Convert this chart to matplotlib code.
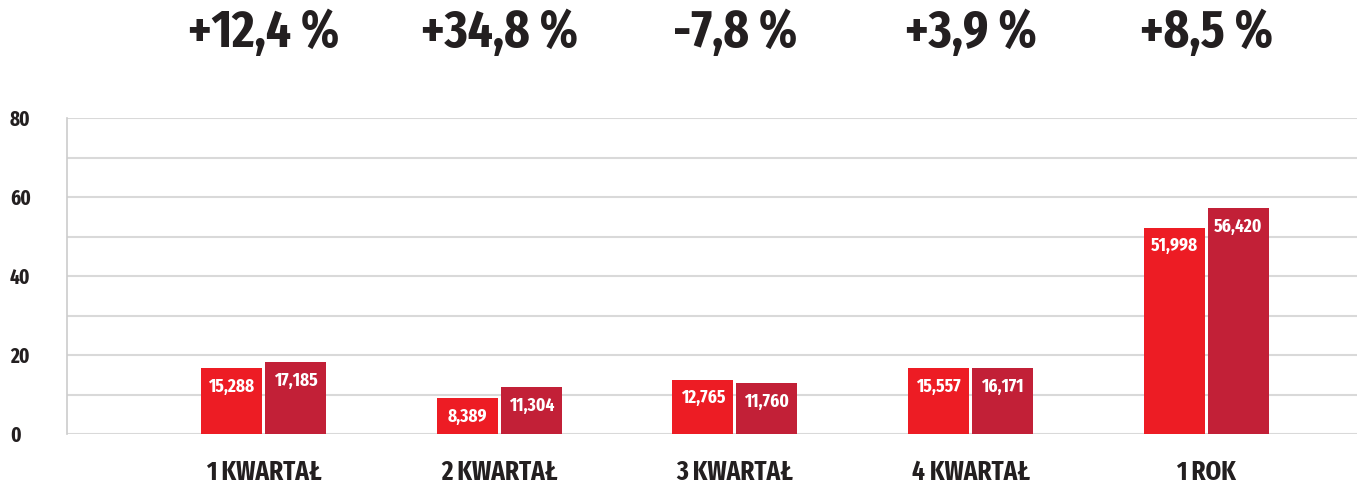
import matplotlib
matplotlib.use('Agg')
import matplotlib.pyplot as plt
import numpy as np

# Data
categories = ['1 KWARTAŁ', '2 KWARTAŁ', '3 KWARTAŁ', '4 KWARTAŁ', '1 ROK']
changes = ['+12,4 %', '+34,8 %', '-7,8 %', '+3,9 %', '+8,5 %']
# bar heights as drawn in the picture
heights_prev = [16.7, 9.1, 13.7, 16.7, 52.2]
heights_curr = [18.2, 11.9, 12.9, 16.7, 57.2]
# value labels printed on the bars
labels_prev = ['15,288', '8,389', '12,765', '15,557', '51,998']
labels_curr = ['17,185', '11,304', '11,760', '16,171', '56,420']
yticks = [0, 20, 40, 60, 80]

red = '#ED1C24'
dark_red = '#C22037'
text_col = '#231F20'
font = ['Fira Sans Extra Condensed', 'DejaVu Sans']

fig = plt.figure(figsize=(13.57, 4.83), dpi=100)
ax = fig.add_axes([67 / 1357, 49 / 483, 1 - 67 / 1357, 316 / 483])

x = np.arange(len(categories))
w = 0.259
off = 0.136
b1 = ax.bar(x - off, heights_prev, w, color=red, zorder=3)
b2 = ax.bar(x + off, heights_curr, w, color=dark_red, zorder=3)

# white labels near the top of each bar
for bars, labs in ((b1, labels_prev), (b2, labels_curr)):
    for rect, lab in zip(bars, labs):
        ax.annotate(lab, (rect.get_x() + rect.get_width() / 2, rect.get_height()),
                    xytext=(0, -13.3), textcoords='offset points',
                    ha='center', va='center', color='white', fontsize=13.5,
                    fontweight='bold', family=font, zorder=4)

# percentage changes above the plot
for xi, ch in zip(x, changes):
    ax.text(xi, 1.27, ch, transform=ax.get_xaxis_transform(), ha='center',
            va='center', fontsize=38, fontweight='bold', color=text_col, family=font)

ax.set_xlim(-0.834, 4.64)
ax.set_ylim(0, 80)
ax.set_yticks(yticks)
ax.set_yticklabels([str(t) for t in yticks], ha='left', fontsize=15,
                   fontweight='bold', color=text_col, family=font)
ax.tick_params(axis='y', length=0, pad=41)
ax.set_yticks(np.arange(0, 81, 10), minor=True)
ax.tick_params(axis='y', which='minor', length=0)
ax.grid(axis='y', which='both', color='#D9D9D9', linewidth=1.5, zorder=0)

ax.set_xticks(x)
ax.set_xticklabels(categories, fontsize=19.5, fontweight='bold', color=text_col, family=font)
ax.tick_params(axis='x', length=0, pad=18)

for s in ['top', 'right', 'bottom']:
    ax.spines[s].set_visible(False)
ax.spines['left'].set_color('#CCCCCC')
ax.spines['left'].set_linewidth(1.2)

fig.savefig('out.png', dpi=100)
